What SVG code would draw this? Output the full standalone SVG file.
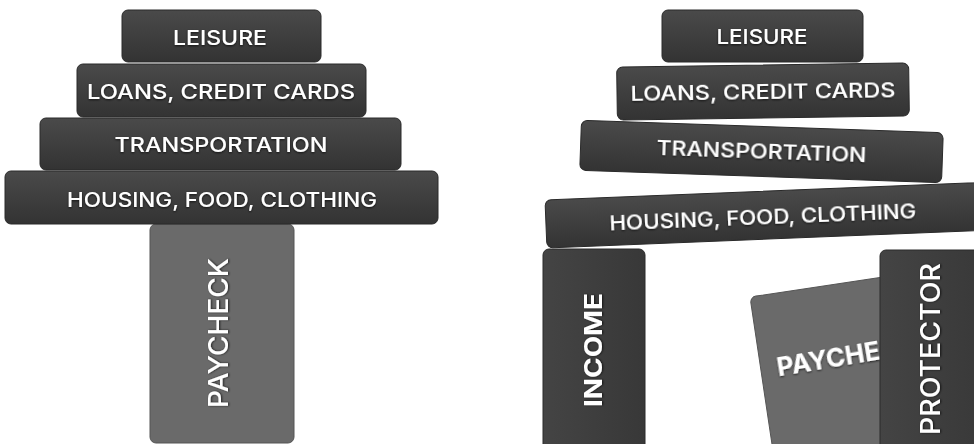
<svg xmlns="http://www.w3.org/2000/svg" width="974" height="444" viewBox="0 0 974 444">
<defs>
<linearGradient id="dark" x1="0" y1="0" x2="0" y2="1">
<stop offset="0" stop-color="#4a4a4a"/>
<stop offset="1" stop-color="#333333"/>
</linearGradient>
<linearGradient id="darkv" x1="0" y1="0" x2="1" y2="0">
<stop offset="0" stop-color="#444444"/>
<stop offset="1" stop-color="#383838"/>
</linearGradient>
<filter id="sh" x="-20%" y="-50%" width="140%" height="200%">
<feDropShadow dx="0" dy="1" stdDeviation="0.8" flood-color="#000" flood-opacity="0.7"/>
</filter>
</defs>
<style>
.card{fill:url(#dark);stroke:#2a2a2a;stroke-width:1}
.cardv{fill:url(#darkv);stroke:#2a2a2a;stroke-width:1}
.light{fill:#6a6a6a;stroke:#555;stroke-width:1}
.t{font-family:Inter,"DejaVu Sans",sans-serif;font-weight:500;fill:#fff;text-anchor:middle;filter:url(#sh)}
.tb{font-family:Inter,"DejaVu Sans",sans-serif;font-weight:700;fill:#fff;text-anchor:middle;filter:url(#sh)}
</style>
<rect width="974" height="444" fill="#fff"/>

<!-- Left stack -->
<g id="l-paycheck">
<rect class="light" x="150" y="224" width="144" height="219" rx="6"/>
<text class="t" font-size="27" textLength="150" lengthAdjust="spacingAndGlyphs" transform="translate(228,333) rotate(-90)">PAYCHECK</text>
</g>
<g id="l-housing">
<rect class="card" x="5" y="171" width="433" height="53" rx="6"/>
<text class="t" x="222" y="207" font-size="20" textLength="310" lengthAdjust="spacingAndGlyphs">HOUSING, FOOD, CLOTHING</text>
</g>
<g id="l-transport">
<rect class="card" x="40" y="118" width="361" height="52" rx="6"/>
<text class="t" x="221" y="152" font-size="20" textLength="213" lengthAdjust="spacingAndGlyphs">TRANSPORTATION</text>
</g>
<g id="l-loans">
<rect class="card" x="77" y="64" width="289" height="53" rx="6"/>
<text class="t" x="221" y="99" font-size="20" textLength="268" lengthAdjust="spacingAndGlyphs">LOANS, CREDIT CARDS</text>
</g>
<g id="l-leisure">
<rect class="card" x="122" y="10" width="199" height="52" rx="6"/>
<text class="t" x="220" y="45" font-size="20" textLength="94" lengthAdjust="spacingAndGlyphs">LEISURE</text>
</g>

<!-- Right stack -->
<g id="r-income">
<rect class="cardv" x="543" y="249" width="102" height="210" rx="6"/>
<text class="tb" font-size="24" textLength="114" lengthAdjust="spacingAndGlyphs" transform="translate(602,350) rotate(-90)">INCOME</text>
</g>
<g id="r-paycheck" transform="translate(750,297) rotate(-8.5)">
<rect class="light" x="0" y="0" width="144" height="219" rx="6" fill="#6e6e6e"/>
<text class="tb" x="15" y="83" font-size="26" textLength="142" lengthAdjust="spacingAndGlyphs" style="text-anchor:start" transform="rotate(-1)">PAYCHECK</text>
</g>
<g id="r-protector">
<rect class="cardv" x="880" y="250" width="110" height="210" rx="6"/>
<text class="t" font-size="27" textLength="172" lengthAdjust="spacingAndGlyphs" transform="translate(940,349) rotate(-90)">PROTECTOR</text>
</g>
<g id="r-housing" transform="translate(545,200) rotate(-2.3)">
<rect class="card" x="0" y="0" width="470" height="48" rx="6"/>
<text class="t" x="217" y="33" font-size="20" textLength="307" lengthAdjust="spacingAndGlyphs">HOUSING, FOOD, CLOTHING</text>
</g>
<g id="r-transport" transform="translate(761.5,151.5) rotate(2)">
<rect class="card" x="-181" y="-25" width="362" height="50" rx="6"/>
<text class="t" x="0" y="7" font-size="20" textLength="210" lengthAdjust="spacingAndGlyphs">TRANSPORTATION</text>
</g>
<g id="r-loans" transform="translate(763,91) rotate(-0.8)">
<rect class="card" x="-146" y="-26" width="292" height="53" rx="6"/>
<text class="t" x="0" y="8" font-size="20" textLength="265" lengthAdjust="spacingAndGlyphs">LOANS, CREDIT CARDS</text>
</g>
<g id="r-leisure">
<rect class="card" x="662" y="10" width="201" height="52" rx="6"/>
<text class="t" x="762" y="44" font-size="20" textLength="91" lengthAdjust="spacingAndGlyphs">LEISURE</text>
</g>
<g id="connectors"/>
</svg>
